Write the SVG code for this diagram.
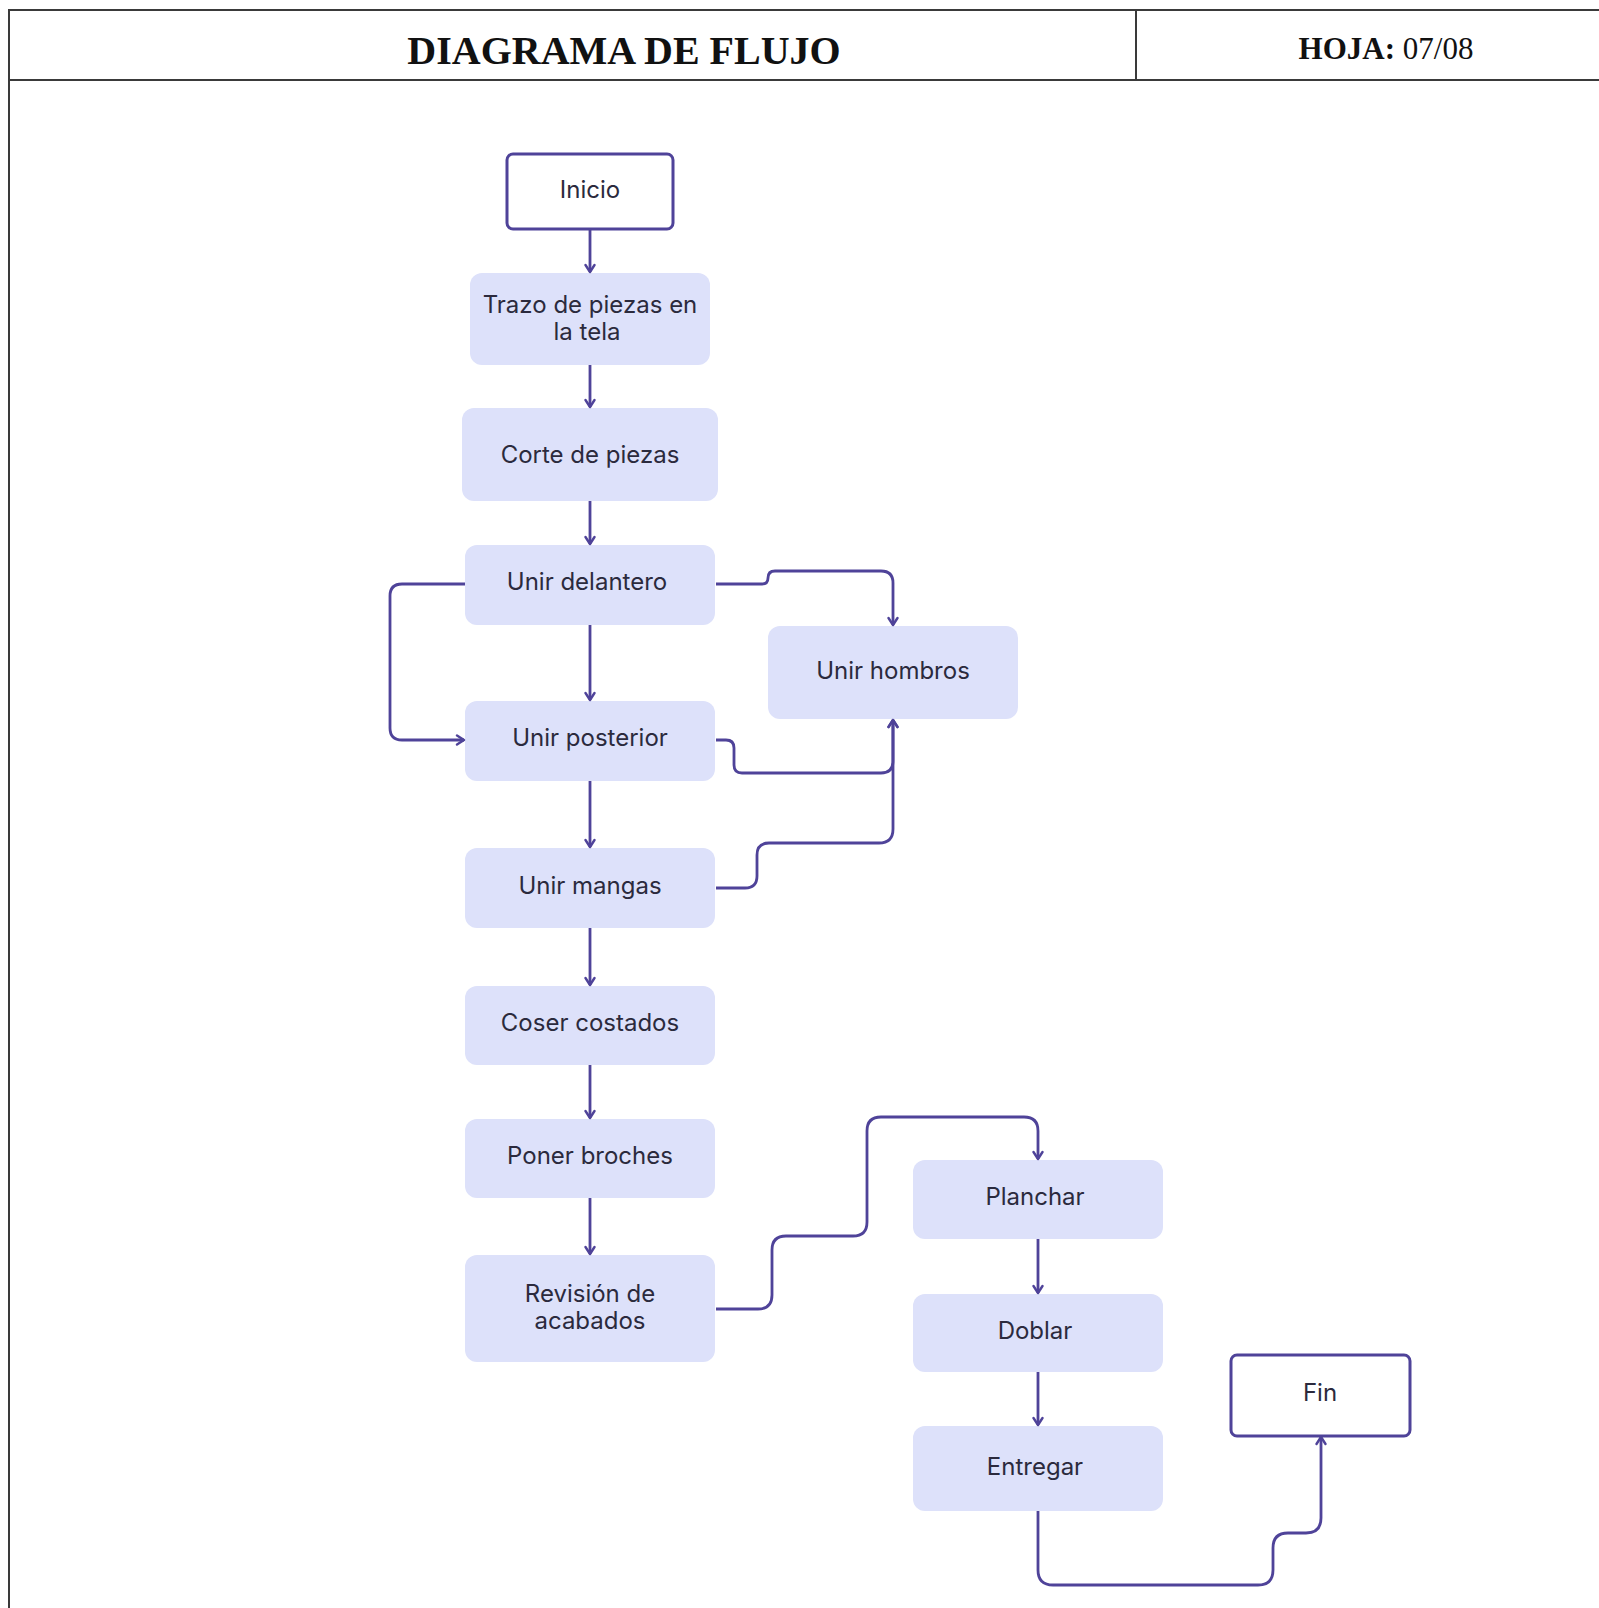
<svg xmlns="http://www.w3.org/2000/svg" width="1599" height="1608" viewBox="0 0 1599 1608">
<style>
.frame{stroke:#3a3a3a;stroke-width:2;fill:none}
.title{font-family:"Liberation Serif","Times New Roman",serif;fill:#111}
.box{fill:#dde1fa}
.term{fill:#ffffff;stroke:#4f4399;stroke-width:3}
.lbl{font-family:Inter,"Open Sans",sans-serif;font-size:24px;fill:#2b2a3d;text-anchor:middle}
.conn path{fill:none;stroke:#4f4399;stroke-width:2.8;marker-end:url(#arr)}
</style>
<defs>
<marker id="arr" viewBox="0 0 12 12" refX="10" refY="6" markerWidth="12" markerHeight="12" markerUnits="userSpaceOnUse" orient="auto">
<path d="M3,1.5 L10,6 L3,10.5" fill="none" stroke="#4f4399" stroke-width="2.4" stroke-linejoin="round" stroke-linecap="round"/>
</marker>
</defs>
<rect width="1599" height="1608" fill="#ffffff"/>
<g id="header">
<path class="frame" d="M8,10 H1599 M8,80 H1599 M9,10 V1608 M1136,10 V80"/>
<text class="title" x="624" y="64" font-size="40" font-weight="bold" text-anchor="middle">DIAGRAMA DE FLUJO</text>
<text class="title" x="1386" y="59" font-size="31" text-anchor="middle"><tspan font-weight="bold">HOJA:</tspan> 07/08</text>
</g>
<g id="n-inicio"><rect class="term" x="507" y="154" width="166" height="75" rx="6"/><text class="lbl" x="590" y="198">Inicio</text></g>
<g id="n-trazo"><rect class="box" x="470" y="273" width="240" height="92" rx="12"/><text class="lbl" x="590" y="313">Trazo de piezas en</text><text class="lbl" x="587" y="340">la tela</text></g>
<g id="n-corte"><rect class="box" x="462" y="408" width="256" height="93" rx="12"/><text class="lbl" x="590" y="463">Corte de piezas</text></g>
<g id="n-delantero"><rect class="box" x="465" y="545" width="250" height="80" rx="12"/><text class="lbl" x="587" y="590">Unir delantero</text></g>
<g id="n-hombros"><rect class="box" x="768" y="626" width="250" height="93" rx="12"/><text class="lbl" x="893" y="679">Unir hombros</text></g>
<g id="n-posterior"><rect class="box" x="465" y="701" width="250" height="80" rx="12"/><text class="lbl" x="590" y="746">Unir posterior</text></g>
<g id="n-mangas"><rect class="box" x="465" y="848" width="250" height="80" rx="12"/><text class="lbl" x="590" y="894">Unir mangas</text></g>
<g id="n-costados"><rect class="box" x="465" y="986" width="250" height="79" rx="12"/><text class="lbl" x="590" y="1031">Coser costados</text></g>
<g id="n-broches"><rect class="box" x="465" y="1119" width="250" height="79" rx="12"/><text class="lbl" x="590" y="1164">Poner broches</text></g>
<g id="n-revision"><rect class="box" x="465" y="1255" width="250" height="107" rx="12"/><text class="lbl" x="590" y="1302">Revisión de</text><text class="lbl" x="590" y="1329">acabados</text></g>
<g id="n-planchar"><rect class="box" x="913" y="1160" width="250" height="79" rx="12"/><text class="lbl" x="1035" y="1205">Planchar</text></g>
<g id="n-doblar"><rect class="box" x="913" y="1294" width="250" height="78" rx="12"/><text class="lbl" x="1035" y="1339">Doblar</text></g>
<g id="n-entregar"><rect class="box" x="913" y="1426" width="250" height="85" rx="12"/><text class="lbl" x="1035" y="1475">Entregar</text></g>
<g id="n-fin"><rect class="term" x="1231" y="1355" width="179" height="81" rx="6"/><text class="lbl" x="1320" y="1401">Fin</text></g>
<g id="connectors" class="conn">
<path d="M590,229 V272"/>
<path d="M590,365 V407"/>
<path d="M590,501 V544"/>
<path d="M590,625 V700"/>
<path d="M590,781 V847"/>
<path d="M590,928 V985"/>
<path d="M590,1065 V1118"/>
<path d="M590,1198 V1254"/>
<path d="M1038,1239 V1293"/>
<path d="M1038,1372 V1425"/>
<path d="M465,584 H402 Q390,584 390,596 V728 Q390,740 402,740 H464"/>
<path d="M716,584 H762 Q768,584 768,578 Q768,571 775,571 H881 Q893,571 893,583 V625"/>
<path d="M716,740 H726 Q734,740 734,748 V765 Q734,773 742,773 H881 Q893,773 893,761 V720"/>
<path d="M716,888 H745 Q757,888 757,876 V855 Q757,843 769,843 H879 Q893,843 893,829 V720"/>
<path d="M716,1309 H758 Q772,1309 772,1295 V1250 Q772,1236 786,1236 H853 Q867,1236 867,1222 V1131 Q867,1117 881,1117 H1024 Q1038,1117 1038,1131 V1159"/>
<path d="M1038,1511 V1570 Q1038,1585 1053,1585 H1258 Q1273,1585 1273,1570 V1548 Q1273,1533 1288,1533 H1306 Q1321,1533 1321,1518 V1437"/>
</g>
</svg>
